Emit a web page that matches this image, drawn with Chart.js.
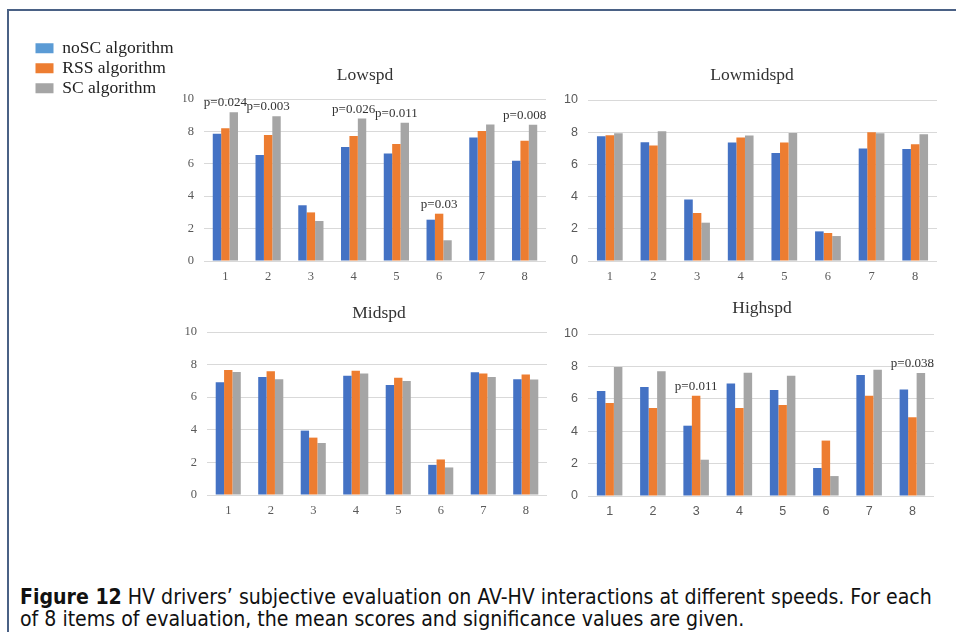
<!DOCTYPE html>
<html>
<head>
<meta charset="utf-8">
<script src="https://cdn.jsdelivr.net/npm/chart.js@4.4.0/dist/chart.umd.min.js"></script>
<style>
  body { margin: 0; background: #fff; width: 956px; height: 632px; overflow: hidden; position: relative; }
  #frame { position: absolute; left: 7px; top: 9px; width: 980px; height: 660px;
           border-left: 2px solid #4a6185; border-top: 2px solid #4a6185; }
  canvas { position: absolute; }
  #caption { position: absolute; left: 20px; top: 586px; font-family: "DejaVu Sans Condensed", "DejaVu Sans", sans-serif;
             font-size: 18px; line-height: 22px; color: #111; white-space: nowrap; }
  #caption b { font-weight: bold; }
</style>
</head>
<body>
<div id="frame"></div>
<canvas id="lowspd"></canvas>
<canvas id="lowmid"></canvas>
<canvas id="mid"></canvas>
<canvas id="high"></canvas>
<div id="caption"><span id="cap1"><b>Figure 12</b> HV drivers’ subjective evaluation on AV-HV interactions at different speeds. For each</span><br><span id="cap2">of 8 items of evaluation, the mean scores and significance values are given.</span></div>

<script>
// data
const categories = ['1', '2', '3', '4', '5', '6', '7', '8'];
const seriesNames = ['noSC algorithm', 'RSS algorithm', 'SC algorithm'];
const yTicks = [0, 2, 4, 6, 8, 10];

const lowspdNoSC = [7.86, 6.54, 3.44, 7.04, 6.63, 2.55, 7.63, 6.19];
const lowspdRSS  = [8.19, 7.78, 3.00, 7.72, 7.22, 2.92, 8.02, 7.42];
const lowspdSC   = [9.18, 8.93, 2.47, 8.79, 8.54, 1.28, 8.43, 8.41];
const lowspdP    = ['p=0.024', 'p=0.003', null, 'p=0.026', 'p=0.011', 'p=0.03', null, 'p=0.008'];

const lowmidNoSC = [7.75, 7.38, 3.82, 7.36, 6.71, 1.84, 6.98, 6.96];
const lowmidRSS  = [7.81, 7.17, 2.98, 7.67, 7.36, 1.74, 8.00, 7.25];
const lowmidSC   = [7.93, 8.06, 2.38, 7.79, 7.95, 1.55, 7.93, 7.87];

const midNoSC = [6.91, 7.24, 3.95, 7.32, 6.75, 1.85, 7.53, 7.10];
const midRSS  = [7.67, 7.59, 3.52, 7.63, 7.20, 2.18, 7.45, 7.39];
const midSC   = [7.55, 7.10, 3.19, 7.46, 6.99, 1.69, 7.24, 7.08];

const highNoSC = [6.48, 6.73, 4.34, 6.95, 6.54, 1.73, 7.47, 6.58];
const highRSS  = [5.74, 5.43, 6.19, 5.43, 5.62, 3.42, 6.19, 4.86];
const highSC   = [7.96, 7.70, 2.24, 7.61, 7.43, 1.23, 7.80, 7.59];
const highP    = [null, null, 'p=0.011', null, null, null, null, 'p=0.038'];

// styles
const barColors = ['#4472C4', '#ED7D31', '#A5A5A5'];
const legendColors = ['#5B9BD5', '#ED7D31', '#A5A5A5'];
const SERIF = '"Liberation Serif", "Times New Roman", serif';
const SANS = '"Liberation Sans", Arial, sans-serif';

const panels = [
  { id: 'lowspd', title: 'Lowspd', series: [lowspdNoSC, lowspdRSS, lowspdSC], p: lowspdP, legend: true,
    box: { left: 33, top: 37, right: 556, bottom: 290 }, area: { left: 204, top: 99, right: 546, bottom: 261 },
    titleX: 365, titleY: 75, yFont: SERIF, xFont: SERIF },
  { id: 'lowmid', title: 'Lowmidspd', series: [lowmidNoSC, lowmidRSS, lowmidSC], p: null, legend: false,
    box: { left: 560, top: 37, right: 950, bottom: 290 }, area: { left: 588, top: 100, right: 937, bottom: 261 },
    titleX: 752, titleY: 75, yFont: SANS, xFont: SERIF },
  { id: 'mid', title: 'Midspd', series: [midNoSC, midRSS, midSC], p: null, legend: false,
    box: { left: 150, top: 285, right: 556, bottom: 528 }, area: { left: 207, top: 332, right: 547, bottom: 495 },
    titleX: 379, titleY: 313, yFont: SERIF, xFont: SERIF },
  { id: 'high', title: 'Highspd', series: [highNoSC, highRSS, highSC], p: highP, legend: false,
    box: { left: 560, top: 285, right: 950, bottom: 528 }, area: { left: 588, top: 334, right: 934, bottom: 496 },
    titleX: 762, titleY: 308, yFont: SANS, xFont: SANS },
];

function makeChart(p) {
  const canvas = document.getElementById(p.id);
  const b = p.box, a = p.area;
  canvas.width = b.right - b.left;
  canvas.height = b.bottom - b.top;
  canvas.style.left = b.left + 'px';
  canvas.style.top = b.top + 'px';

  const titleSize = 17.5, titleLH = titleSize * 1.2;

  // move the title to its own centre, like the reference
  const titlePlace = {
    id: 'titlePlace',
    afterLayout(chart) {
      const tb = chart.titleBlock;
      if (!tb) return;
      const w = tb.right - tb.left;
      const cx = p.titleX - b.left;
      tb.left = cx - w / 2;
      tb.right = cx + w / 2;
    }
  };

  // significance labels above the tallest bar of a group
  const pValues = {
    id: 'pValues',
    afterDatasetsDraw(chart) {
      if (!p.p) return;
      const ctx = chart.ctx, xs = chart.scales.x;
      ctx.save();
      ctx.font = '13px ' + SERIF;
      ctx.fillStyle = '#333';
      ctx.textAlign = 'center';
      ctx.textBaseline = 'bottom';
      p.p.forEach((txt, i) => {
        if (!txt) return;
        let top = Infinity;
        chart.data.datasets.forEach((ds, d) => {
          const el = chart.getDatasetMeta(d).data[i];
          if (el) top = Math.min(top, el.y);
        });
        ctx.fillText(txt, xs.getPixelForValue(i), top - 3);
      });
      ctx.restore();
    }
  };

  new Chart(canvas, {
    type: 'bar',
    data: {
      labels: categories,
      datasets: p.series.map((vals, i) => ({
        label: seriesNames[i],
        data: vals,
        backgroundColor: barColors[i],
        borderWidth: 0,
        categoryPercentage: 0.59,
        barPercentage: 1.0,
      })),
    },
    options: {
      responsive: false,
      animation: false,
      layout: { padding: { left: 0, top: 0, right: b.right - a.right, bottom: 0 } },
      scales: {
        x: {
          grid: { display: false },
          border: { display: false },
          ticks: { font: { family: p.xFont, size: 12.5 }, color: '#595959', padding: 0 },
          afterFit: (s) => { s.height = b.bottom - a.bottom; },
        },
        y: {
          min: 0,
          max: 10,
          afterBuildTicks: (s) => { s.ticks = yTicks.map(v => ({ value: v })); },
          grid: { color: '#d9d9d9', drawTicks: false },
          border: { display: false },
          ticks: { font: { family: p.yFont, size: 12.5 }, color: '#595959', padding: 10 },
          afterFit: (s) => {
            const lg = s.chart.legend;
            const lw = (lg && p.legend) ? lg.width : 0;
            s.width = a.left - b.left - lw;
          },
        },
      },
      plugins: {
        tooltip: { enabled: false },
        title: {
          display: true,
          text: p.title,
          fullSize: false,
          color: '#333',
          font: { family: SERIF, size: titleSize, weight: 'normal', lineHeight: 1.2 },
          padding: { top: p.titleY - b.top - titleLH / 2, bottom: a.top - p.titleY - titleLH / 2 },
        },
        legend: {
          display: p.legend,
          position: 'left',
          align: 'start',
          maxWidth: 165,
          labels: {
            boxWidth: 18,
            boxHeight: 10,
            padding: 2.5,
            color: '#222',
            font: { family: SERIF, size: 17.5 },
            generateLabels: (chart) => chart.data.datasets.map((ds, i) => ({
              text: ds.label,
              fillStyle: legendColors[i],
              strokeStyle: legendColors[i],
              lineWidth: 0,
              hidden: false,
              datasetIndex: i,
              fontColor: '#222',
            })),
          },
        },
      },
    },
    plugins: [titlePlace, pValues],
  });
}

panels.forEach(makeChart);

// fit caption first line to the reference width
const cap = document.getElementById('caption');
const w1 = document.getElementById('cap1').getBoundingClientRect().width;
cap.style.fontSize = (18 * 912 / w1).toFixed(2) + 'px';
</script>
</body>
</html>
